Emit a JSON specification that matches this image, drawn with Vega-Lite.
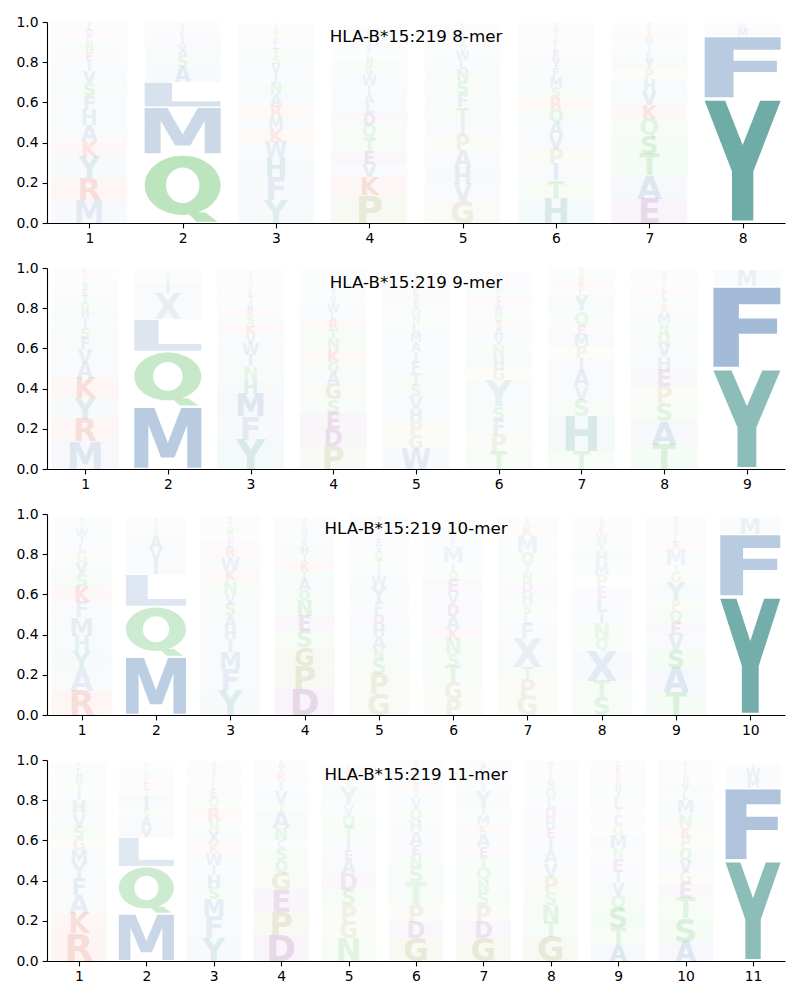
{
"$schema": "https://vega.github.io/schema/vega-lite/v6.json",
"padding": {"left": 16, "top": 15, "right": 10, "bottom": 5},
"background": "white",
"spacing": 45,
"bounds": "flush",
"resolve": {"scale": {"shape": "independent", "size": "independent"}},
"config": {
  "view": {"stroke": null},
  "font": "DejaVu Sans",
  "axis": {"domainColor": "#000", "tickColor": "#000", "labelColor": "#000", "labelFont": "DejaVu Sans", "labelFontSize": 13.9, "tickSize": 4.9, "labelPadding": 4, "grid": false, "domainWidth": 1.1, "tickWidth": 1.1},
  "title": {"fontSize": 16.7, "fontWeight": "normal", "font": "DejaVu Sans", "color": "#000", "anchor": "middle", "offset": -31, "baseline": "alphabetic"},
  "legend": {"disable": true}
},
"datasets": {
"d8": [
{"p":1,"l":"M","h":0.113,"a":0.1},{"p":1,"l":"R","h":0.111,"a":0.12},{"p":1,"l":"Y","h":0.106,"a":0.1},{"p":1,"l":"K","h":0.08,"a":0.1},{"p":1,"l":"A","h":0.076,"a":0.09},{"p":1,"l":"H","h":0.074,"a":0.08},{"p":1,"l":"F","h":0.073,"a":0.08},{"p":1,"l":"S","h":0.065,"a":0.09},{"p":1,"l":"V","h":0.06,"a":0.08},{"p":1,"l":"I","h":0.05,"a":0.07},{"p":1,"l":"E","h":0.045,"a":0.07},{"p":1,"l":"N","h":0.04,"a":0.07},{"p":1,"l":"G","h":0.035,"a":0.07},{"p":1,"l":"D","h":0.03,"a":0.06},{"p":1,"l":"L","h":0.025,"a":0.06},{"p":1,"l":"Q","h":0.02,"a":0.06},
{"p":2,"l":"Q","h":0.342,"a":0.31},{"p":2,"l":"M","h":0.235,"a":0.27},{"p":2,"l":"L","h":0.123,"a":0.2},{"p":2,"l":"A","h":0.076,"a":0.1},{"p":2,"l":"S","h":0.058,"a":0.08},{"p":2,"l":"X","h":0.05,"a":0.08},{"p":2,"l":"I","h":0.04,"a":0.07},{"p":2,"l":"E","h":0.03,"a":0.06},{"p":2,"l":"T","h":0.025,"a":0.06},{"p":2,"l":"V","h":0.02,"a":0.05},
{"p":3,"l":"Y","h":0.115,"a":0.1},{"p":3,"l":"F","h":0.114,"a":0.1},{"p":3,"l":"H","h":0.099,"a":0.1},{"p":3,"l":"W","h":0.075,"a":0.09},{"p":3,"l":"K","h":0.066,"a":0.09},{"p":3,"l":"M","h":0.058,"a":0.08},{"p":3,"l":"R","h":0.057,"a":0.09},{"p":3,"l":"A","h":0.056,"a":0.08},{"p":3,"l":"N","h":0.055,"a":0.08},{"p":3,"l":"I","h":0.05,"a":0.07},{"p":3,"l":"V","h":0.048,"a":0.07},{"p":3,"l":"S","h":0.04,"a":0.07},{"p":3,"l":"T","h":0.035,"a":0.07},{"p":3,"l":"L","h":0.03,"a":0.06},{"p":3,"l":"E","h":0.025,"a":0.06},{"p":3,"l":"G","h":0.02,"a":0.06},{"p":3,"l":"Q","h":0.02,"a":0.06},{"p":3,"l":"D","h":0.015,"a":0.05},{"p":3,"l":"P","h":0.015,"a":0.05},
{"p":4,"l":"P","h":0.138,"a":0.15},{"p":4,"l":"K","h":0.09,"a":0.12},{"p":4,"l":"V","h":0.066,"a":0.09},{"p":4,"l":"E","h":0.066,"a":0.1},{"p":4,"l":"T","h":0.066,"a":0.08},{"p":4,"l":"Q","h":0.064,"a":0.08},{"p":4,"l":"D","h":0.058,"a":0.09},{"p":4,"l":"L","h":0.05,"a":0.08},{"p":4,"l":"A","h":0.045,"a":0.08},{"p":4,"l":"I","h":0.045,"a":0.07},{"p":4,"l":"W","h":0.05,"a":0.07},{"p":4,"l":"S","h":0.045,"a":0.07},{"p":4,"l":"N","h":0.035,"a":0.07},{"p":4,"l":"G","h":0.03,"a":0.06},{"p":4,"l":"F","h":0.025,"a":0.06},{"p":4,"l":"H","h":0.02,"a":0.06},{"p":4,"l":"R","h":0.02,"a":0.06},{"p":4,"l":"Y","h":0.02,"a":0.05},{"p":4,"l":"M","h":0.02,"a":0.05},{"p":4,"l":"C","h":0.015,"a":0.05},{"p":4,"l":"X","h":0.015,"a":0.05},
{"p":5,"l":"G","h":0.109,"a":0.12},{"p":5,"l":"V","h":0.087,"a":0.09},{"p":5,"l":"H","h":0.083,"a":0.09},{"p":5,"l":"A","h":0.082,"a":0.09},{"p":5,"l":"P","h":0.075,"a":0.1},{"p":5,"l":"I","h":0.072,"a":0.08},{"p":5,"l":"T","h":0.067,"a":0.09},{"p":5,"l":"F","h":0.066,"a":0.08},{"p":5,"l":"S","h":0.065,"a":0.09},{"p":5,"l":"N","h":0.058,"a":0.08},{"p":5,"l":"L","h":0.045,"a":0.07},{"p":5,"l":"W","h":0.045,"a":0.07},{"p":5,"l":"Q","h":0.03,"a":0.06},{"p":5,"l":"Y","h":0.025,"a":0.06},{"p":5,"l":"E","h":0.02,"a":0.05},{"p":5,"l":"M","h":0.015,"a":0.05},{"p":5,"l":"K","h":0.02,"a":0.05},{"p":5,"l":"D","h":0.015,"a":0.05},{"p":5,"l":"R","h":0.015,"a":0.05},
{"p":6,"l":"H","h":0.121,"a":0.12},{"p":6,"l":"T","h":0.091,"a":0.1},{"p":6,"l":"I","h":0.083,"a":0.09},{"p":6,"l":"P","h":0.075,"a":0.1},{"p":6,"l":"V","h":0.068,"a":0.09},{"p":6,"l":"A","h":0.066,"a":0.09},{"p":6,"l":"Q","h":0.065,"a":0.09},{"p":6,"l":"R","h":0.058,"a":0.09},{"p":6,"l":"S","h":0.05,"a":0.08},{"p":6,"l":"M","h":0.05,"a":0.08},{"p":6,"l":"F","h":0.045,"a":0.07},{"p":6,"l":"Y","h":0.045,"a":0.07},{"p":6,"l":"E","h":0.04,"a":0.07},{"p":6,"l":"L","h":0.03,"a":0.06},{"p":6,"l":"K","h":0.025,"a":0.06},{"p":6,"l":"N","h":0.02,"a":0.05},{"p":6,"l":"G","h":0.02,"a":0.05},{"p":6,"l":"W","h":0.02,"a":0.05},{"p":6,"l":"D","h":0.015,"a":0.05},{"p":6,"l":"C","h":0.01,"a":0.05},
{"p":7,"l":"E","h":0.121,"a":0.14},{"p":7,"l":"A","h":0.116,"a":0.12},{"p":7,"l":"T","h":0.108,"a":0.12},{"p":7,"l":"S","h":0.091,"a":0.12},{"p":7,"l":"Q","h":0.083,"a":0.1},{"p":7,"l":"K","h":0.07,"a":0.1},{"p":7,"l":"V","h":0.068,"a":0.09},{"p":7,"l":"H","h":0.058,"a":0.08},{"p":7,"l":"P","h":0.05,"a":0.08},{"p":7,"l":"Y","h":0.048,"a":0.07},{"p":7,"l":"L","h":0.04,"a":0.07},{"p":7,"l":"I","h":0.035,"a":0.06},{"p":7,"l":"M","h":0.03,"a":0.06},{"p":7,"l":"R","h":0.025,"a":0.06},{"p":7,"l":"N","h":0.02,"a":0.05},{"p":7,"l":"D","h":0.02,"a":0.05},{"p":7,"l":"F","h":0.015,"a":0.05},
{"p":8,"l":"Y","h":0.62,"a":0.64},{"p":8,"l":"F","h":0.31,"a":0.36},{"p":8,"l":"M","h":0.04,"a":0.07},{"p":8,"l":"W","h":0.02,"a":0.05},{"p":8,"l":"L","h":0.01,"a":0.04}
],
"d9": [
{"p":1,"l":"M","h":0.138,"a":0.12},{"p":1,"l":"R","h":0.113,"a":0.12},{"p":1,"l":"Y","h":0.103,"a":0.1},{"p":1,"l":"K","h":0.1,"a":0.12},{"p":1,"l":"A","h":0.075,"a":0.09},{"p":1,"l":"V","h":0.07,"a":0.08},{"p":1,"l":"F","h":0.055,"a":0.08},{"p":1,"l":"S","h":0.05,"a":0.08},{"p":1,"l":"I","h":0.045,"a":0.07},{"p":1,"l":"H","h":0.04,"a":0.07},{"p":1,"l":"Q","h":0.035,"a":0.07},{"p":1,"l":"T","h":0.035,"a":0.07},{"p":1,"l":"E","h":0.03,"a":0.06},{"p":1,"l":"N","h":0.03,"a":0.06},{"p":1,"l":"L","h":0.025,"a":0.06},{"p":1,"l":"G","h":0.02,"a":0.05},{"p":1,"l":"D","h":0.02,"a":0.05},{"p":1,"l":"P","h":0.015,"a":0.05},
{"p":2,"l":"M","h":0.31,"a":0.36},{"p":2,"l":"Q","h":0.275,"a":0.26},{"p":2,"l":"L","h":0.16,"a":0.18},{"p":2,"l":"X","h":0.13,"a":0.08},{"p":2,"l":"I","h":0.05,"a":0.08},{"p":2,"l":"A","h":0.025,"a":0.05},{"p":2,"l":"S","h":0.02,"a":0.05},{"p":2,"l":"E","h":0.015,"a":0.05},{"p":2,"l":"T","h":0.01,"a":0.04},
{"p":3,"l":"Y","h":0.146,"a":0.12},{"p":3,"l":"F","h":0.116,"a":0.1},{"p":3,"l":"M","h":0.113,"a":0.12},{"p":3,"l":"H","h":0.07,"a":0.09},{"p":3,"l":"N","h":0.066,"a":0.08},{"p":3,"l":"I","h":0.058,"a":0.08},{"p":3,"l":"W","h":0.055,"a":0.08},{"p":3,"l":"V","h":0.05,"a":0.07},{"p":3,"l":"K","h":0.045,"a":0.08},{"p":3,"l":"S","h":0.04,"a":0.07},{"p":3,"l":"R","h":0.035,"a":0.07},{"p":3,"l":"A","h":0.03,"a":0.06},{"p":3,"l":"T","h":0.03,"a":0.06},{"p":3,"l":"E","h":0.025,"a":0.06},{"p":3,"l":"L","h":0.02,"a":0.05},{"p":3,"l":"G","h":0.02,"a":0.05},{"p":3,"l":"Q","h":0.02,"a":0.05},{"p":3,"l":"D","h":0.015,"a":0.05},{"p":3,"l":"P","h":0.02,"a":0.05},{"p":3,"l":"C","h":0.015,"a":0.05},
{"p":4,"l":"P","h":0.113,"a":0.14},{"p":4,"l":"D","h":0.085,"a":0.12},{"p":4,"l":"E","h":0.083,"a":0.12},{"p":4,"l":"S","h":0.066,"a":0.09},{"p":4,"l":"G","h":0.075,"a":0.12},{"p":4,"l":"A","h":0.06,"a":0.09},{"p":4,"l":"Q","h":0.05,"a":0.08},{"p":4,"l":"K","h":0.058,"a":0.09},{"p":4,"l":"N","h":0.057,"a":0.08},{"p":4,"l":"T","h":0.05,"a":0.08},{"p":4,"l":"R","h":0.045,"a":0.08},{"p":4,"l":"L","h":0.04,"a":0.07},{"p":4,"l":"W","h":0.04,"a":0.07},{"p":4,"l":"V","h":0.035,"a":0.06},{"p":4,"l":"I","h":0.03,"a":0.06},{"p":4,"l":"H","h":0.025,"a":0.06},{"p":4,"l":"F","h":0.02,"a":0.05},{"p":4,"l":"Y","h":0.02,"a":0.05},{"p":4,"l":"M","h":0.015,"a":0.05},{"p":4,"l":"C","h":0.015,"a":0.05},{"p":4,"l":"X","h":0.015,"a":0.05},
{"p":5,"l":"W","h":0.1,"a":0.1},{"p":5,"l":"G","h":0.068,"a":0.09},{"p":5,"l":"P","h":0.07,"a":0.09},{"p":5,"l":"H","h":0.06,"a":0.08},{"p":5,"l":"V","h":0.066,"a":0.08},{"p":5,"l":"S","h":0.055,"a":0.08},{"p":5,"l":"T","h":0.058,"a":0.08},{"p":5,"l":"F","h":0.055,"a":0.07},{"p":5,"l":"I","h":0.05,"a":0.07},{"p":5,"l":"A","h":0.05,"a":0.07},{"p":5,"l":"M","h":0.045,"a":0.07},{"p":5,"l":"L","h":0.045,"a":0.07},{"p":5,"l":"N","h":0.04,"a":0.06},{"p":5,"l":"Q","h":0.04,"a":0.06},{"p":5,"l":"E","h":0.035,"a":0.06},{"p":5,"l":"Y","h":0.03,"a":0.06},{"p":5,"l":"K","h":0.03,"a":0.06},{"p":5,"l":"D","h":0.025,"a":0.05},{"p":5,"l":"R","h":0.02,"a":0.05},{"p":5,"l":"C","h":0.015,"a":0.05},{"p":5,"l":"X","h":0.02,"a":0.05},
{"p":6,"l":"T","h":0.088,"a":0.1},{"p":6,"l":"P","h":0.083,"a":0.1},{"p":6,"l":"F","h":0.075,"a":0.08},{"p":6,"l":"S","h":0.066,"a":0.08},{"p":6,"l":"Y","h":0.13,"a":0.08},{"p":6,"l":"G","h":0.058,"a":0.08},{"p":6,"l":"H","h":0.055,"a":0.07},{"p":6,"l":"N","h":0.06,"a":0.07},{"p":6,"l":"V","h":0.045,"a":0.07},{"p":6,"l":"A","h":0.045,"a":0.07},{"p":6,"l":"R","h":0.03,"a":0.06},{"p":6,"l":"Q","h":0.035,"a":0.06},{"p":6,"l":"M","h":0.03,"a":0.06},{"p":6,"l":"E","h":0.03,"a":0.06},{"p":6,"l":"K","h":0.025,"a":0.06},{"p":6,"l":"L","h":0.025,"a":0.05},{"p":6,"l":"W","h":0.025,"a":0.05},{"p":6,"l":"I","h":0.02,"a":0.05},{"p":6,"l":"D","h":0.02,"a":0.05},{"p":6,"l":"C","h":0.015,"a":0.05},{"p":6,"l":"X","h":0.02,"a":0.05},
{"p":7,"l":"T","h":0.088,"a":0.1},{"p":7,"l":"H","h":0.174,"a":0.12},{"p":7,"l":"S","h":0.083,"a":0.09},{"p":7,"l":"V","h":0.066,"a":0.08},{"p":7,"l":"A","h":0.075,"a":0.09},{"p":7,"l":"I","h":0.066,"a":0.08},{"p":7,"l":"P","h":0.058,"a":0.08},{"p":7,"l":"M","h":0.058,"a":0.08},{"p":7,"l":"E","h":0.05,"a":0.07},{"p":7,"l":"Q","h":0.066,"a":0.07},{"p":7,"l":"Y","h":0.075,"a":0.07},{"p":7,"l":"L","h":0.03,"a":0.06},{"p":7,"l":"R","h":0.03,"a":0.06},{"p":7,"l":"K","h":0.03,"a":0.06},{"p":7,"l":"N","h":0.02,"a":0.05},{"p":7,"l":"F","h":0.02,"a":0.05},{"p":7,"l":"W","h":0.015,"a":0.05},
{"p":8,"l":"T","h":0.121,"a":0.12},{"p":8,"l":"A","h":0.116,"a":0.12},{"p":8,"l":"S","h":0.091,"a":0.1},{"p":8,"l":"P","h":0.083,"a":0.1},{"p":8,"l":"E","h":0.083,"a":0.1},{"p":8,"l":"H","h":0.066,"a":0.08},{"p":8,"l":"V","h":0.063,"a":0.08},{"p":8,"l":"Q","h":0.056,"a":0.08},{"p":8,"l":"N","h":0.046,"a":0.07},{"p":8,"l":"M","h":0.05,"a":0.07},{"p":8,"l":"K","h":0.035,"a":0.06},{"p":8,"l":"I","h":0.03,"a":0.06},{"p":8,"l":"L","h":0.03,"a":0.06},{"p":8,"l":"R","h":0.025,"a":0.06},{"p":8,"l":"F","h":0.02,"a":0.05},{"p":8,"l":"G","h":0.02,"a":0.05},{"p":8,"l":"D","h":0.015,"a":0.05},{"p":8,"l":"W","h":0.02,"a":0.05},{"p":8,"l":"Y","h":0.02,"a":0.05},
{"p":9,"l":"Y","h":0.5,"a":0.51},{"p":9,"l":"F","h":0.41,"a":0.47},{"p":9,"l":"M","h":0.08,"a":0.07}
],
"d10": [
{"p":1,"l":"R","h":0.121,"a":0.12},{"p":1,"l":"A","h":0.108,"a":0.09},{"p":1,"l":"Y","h":0.091,"a":0.09},{"p":1,"l":"H","h":0.075,"a":0.08},{"p":1,"l":"M","h":0.091,"a":0.09},{"p":1,"l":"F","h":0.075,"a":0.08},{"p":1,"l":"K","h":0.075,"a":0.1},{"p":1,"l":"S","h":0.066,"a":0.08},{"p":1,"l":"V","h":0.058,"a":0.07},{"p":1,"l":"G","h":0.05,"a":0.07},{"p":1,"l":"L","h":0.04,"a":0.06},{"p":1,"l":"I","h":0.035,"a":0.06},{"p":1,"l":"W","h":0.04,"a":0.06},{"p":1,"l":"Q","h":0.025,"a":0.05},{"p":1,"l":"T","h":0.02,"a":0.05},{"p":1,"l":"N","h":0.015,"a":0.05},
{"p":2,"l":"M","h":0.29,"a":0.34},{"p":2,"l":"Q","h":0.25,"a":0.23},{"p":2,"l":"L","h":0.16,"a":0.17},{"p":2,"l":"I","h":0.07,"a":0.08},{"p":2,"l":"V","h":0.06,"a":0.08},{"p":2,"l":"A","h":0.06,"a":0.08},{"p":2,"l":"S","h":0.025,"a":0.05},{"p":2,"l":"E","h":0.025,"a":0.05},{"p":2,"l":"T","h":0.02,"a":0.05},{"p":2,"l":"K","h":0.015,"a":0.05},{"p":2,"l":"D","h":0.01,"a":0.04},
{"p":3,"l":"Y","h":0.121,"a":0.1},{"p":3,"l":"F","h":0.11,"a":0.09},{"p":3,"l":"M","h":0.083,"a":0.09},{"p":3,"l":"I","h":0.066,"a":0.08},{"p":3,"l":"H","h":0.058,"a":0.08},{"p":3,"l":"A","h":0.058,"a":0.08},{"p":3,"l":"S","h":0.058,"a":0.08},{"p":3,"l":"V","h":0.05,"a":0.07},{"p":3,"l":"N","h":0.066,"a":0.07},{"p":3,"l":"K","h":0.05,"a":0.08},{"p":3,"l":"W","h":0.066,"a":0.07},{"p":3,"l":"R","h":0.05,"a":0.07},{"p":3,"l":"E","h":0.04,"a":0.06},{"p":3,"l":"G","h":0.03,"a":0.06},{"p":3,"l":"Q","h":0.03,"a":0.06},{"p":3,"l":"T","h":0.02,"a":0.05},{"p":3,"l":"L","h":0.02,"a":0.05},{"p":3,"l":"D","h":0.015,"a":0.05},
{"p":4,"l":"D","h":0.13,"a":0.15},{"p":4,"l":"P","h":0.116,"a":0.15},{"p":4,"l":"G","h":0.091,"a":0.15},{"p":4,"l":"S","h":0.083,"a":0.1},{"p":4,"l":"E","h":0.075,"a":0.1},{"p":4,"l":"N","h":0.075,"a":0.09},{"p":4,"l":"Q","h":0.05,"a":0.08},{"p":4,"l":"A","h":0.058,"a":0.08},{"p":4,"l":"T","h":0.04,"a":0.07},{"p":4,"l":"K","h":0.045,"a":0.08},{"p":4,"l":"I","h":0.04,"a":0.07},{"p":4,"l":"H","h":0.04,"a":0.07},{"p":4,"l":"V","h":0.03,"a":0.06},{"p":4,"l":"Y","h":0.03,"a":0.06},{"p":4,"l":"M","h":0.025,"a":0.06},{"p":4,"l":"F","h":0.02,"a":0.05},{"p":4,"l":"L","h":0.02,"a":0.05},{"p":4,"l":"W","h":0.015,"a":0.05},
{"p":5,"l":"G","h":0.104,"a":0.12},{"p":5,"l":"P","h":0.1,"a":0.12},{"p":5,"l":"S","h":0.075,"a":0.09},{"p":5,"l":"N","h":0.05,"a":0.08},{"p":5,"l":"A","h":0.066,"a":0.08},{"p":5,"l":"H","h":0.058,"a":0.08},{"p":5,"l":"D","h":0.05,"a":0.08},{"p":5,"l":"F","h":0.058,"a":0.07},{"p":5,"l":"Y","h":0.08,"a":0.07},{"p":5,"l":"W","h":0.05,"a":0.07},{"p":5,"l":"I","h":0.04,"a":0.06},{"p":5,"l":"T","h":0.045,"a":0.06},{"p":5,"l":"Q","h":0.035,"a":0.06},{"p":5,"l":"V","h":0.03,"a":0.06},{"p":5,"l":"E","h":0.03,"a":0.06},{"p":5,"l":"L","h":0.025,"a":0.05},{"p":5,"l":"K","h":0.02,"a":0.05},{"p":5,"l":"M","h":0.02,"a":0.05},{"p":5,"l":"R","h":0.015,"a":0.05},{"p":5,"l":"C","h":0.02,"a":0.05},{"p":5,"l":"X","h":0.02,"a":0.05},
{"p":6,"l":"P","h":0.08,"a":0.1},{"p":6,"l":"G","h":0.083,"a":0.1},{"p":6,"l":"T","h":0.083,"a":0.09},{"p":6,"l":"S","h":0.058,"a":0.08},{"p":6,"l":"N","h":0.075,"a":0.08},{"p":6,"l":"K","h":0.05,"a":0.08},{"p":6,"l":"A","h":0.066,"a":0.08},{"p":6,"l":"D","h":0.058,"a":0.08},{"p":6,"l":"V","h":0.058,"a":0.07},{"p":6,"l":"E","h":0.066,"a":0.08},{"p":6,"l":"Q","h":0.04,"a":0.06},{"p":6,"l":"I","h":0.04,"a":0.06},{"p":6,"l":"M","h":0.08,"a":0.06},{"p":6,"l":"L","h":0.03,"a":0.05},{"p":6,"l":"F","h":0.025,"a":0.05},{"p":6,"l":"H","h":0.025,"a":0.05},{"p":6,"l":"R","h":0.02,"a":0.05},{"p":6,"l":"Y","h":0.02,"a":0.05},{"p":6,"l":"W","h":0.015,"a":0.05},
{"p":7,"l":"G","h":0.096,"a":0.1},{"p":7,"l":"P","h":0.083,"a":0.1},{"p":7,"l":"T","h":0.058,"a":0.08},{"p":7,"l":"X","h":0.14,"a":0.08},{"p":7,"l":"F","h":0.075,"a":0.07},{"p":7,"l":"L","h":0.05,"a":0.06},{"p":7,"l":"S","h":0.05,"a":0.06},{"p":7,"l":"H","h":0.058,"a":0.06},{"p":7,"l":"D","h":0.05,"a":0.06},{"p":7,"l":"N","h":0.05,"a":0.06},{"p":7,"l":"I","h":0.04,"a":0.06},{"p":7,"l":"Q","h":0.058,"a":0.06},{"p":7,"l":"M","h":0.083,"a":0.06},{"p":7,"l":"K","h":0.05,"a":0.05},{"p":7,"l":"R","h":0.025,"a":0.05},{"p":7,"l":"V","h":0.02,"a":0.05},
{"p":8,"l":"S","h":0.088,"a":0.1},{"p":8,"l":"T","h":0.083,"a":0.09},{"p":8,"l":"X","h":0.15,"a":0.1},{"p":8,"l":"Q","h":0.058,"a":0.07},{"p":8,"l":"N","h":0.075,"a":0.07},{"p":8,"l":"I","h":0.058,"a":0.07},{"p":8,"l":"L","h":0.07,"a":0.07},{"p":8,"l":"E","h":0.058,"a":0.06},{"p":8,"l":"P","h":0.058,"a":0.06},{"p":8,"l":"M","h":0.058,"a":0.06},{"p":8,"l":"H","h":0.058,"a":0.06},{"p":8,"l":"Y","h":0.05,"a":0.05},{"p":8,"l":"W","h":0.04,"a":0.05},{"p":8,"l":"K","h":0.03,"a":0.05},{"p":8,"l":"R","h":0.02,"a":0.05},{"p":8,"l":"A","h":0.02,"a":0.05},{"p":8,"l":"G","h":0.015,"a":0.05},
{"p":9,"l":"T","h":0.113,"a":0.12},{"p":9,"l":"A","h":0.12,"a":0.12},{"p":9,"l":"S","h":0.09,"a":0.12},{"p":9,"l":"V","h":0.075,"a":0.09},{"p":9,"l":"E","h":0.066,"a":0.09},{"p":9,"l":"Q","h":0.058,"a":0.08},{"p":9,"l":"P","h":0.05,"a":0.08},{"p":9,"l":"Y","h":0.09,"a":0.08},{"p":9,"l":"G","h":0.05,"a":0.07},{"p":9,"l":"I","h":0.035,"a":0.06},{"p":9,"l":"M","h":0.08,"a":0.06},{"p":9,"l":"R","h":0.035,"a":0.06},{"p":9,"l":"L","h":0.03,"a":0.05},{"p":9,"l":"K","h":0.025,"a":0.05},{"p":9,"l":"N","h":0.02,"a":0.05},{"p":9,"l":"H","h":0.02,"a":0.05},{"p":9,"l":"F","h":0.02,"a":0.05},{"p":9,"l":"W","h":0.015,"a":0.05},
{"p":10,"l":"Y","h":0.59,"a":0.62},{"p":10,"l":"F","h":0.31,"a":0.36},{"p":10,"l":"M","h":0.08,"a":0.07},{"p":10,"l":"W","h":0.01,"a":0.04}
],
"d11": [
{"p":1,"l":"R","h":0.138,"a":0.13},{"p":1,"l":"K","h":0.1,"a":0.12},{"p":1,"l":"A","h":0.091,"a":0.09},{"p":1,"l":"F","h":0.083,"a":0.09},{"p":1,"l":"Y","h":0.075,"a":0.08},{"p":1,"l":"M","h":0.066,"a":0.08},{"p":1,"l":"G","h":0.058,"a":0.08},{"p":1,"l":"S","h":0.058,"a":0.08},{"p":1,"l":"V","h":0.066,"a":0.07},{"p":1,"l":"H","h":0.066,"a":0.07},{"p":1,"l":"I","h":0.05,"a":0.06},{"p":1,"l":"T","h":0.04,"a":0.06},{"p":1,"l":"N","h":0.035,"a":0.06},{"p":1,"l":"L","h":0.03,"a":0.05},{"p":1,"l":"Q","h":0.02,"a":0.05},{"p":1,"l":"D","h":0.015,"a":0.05},
{"p":2,"l":"M","h":0.235,"a":0.28},{"p":2,"l":"Q","h":0.235,"a":0.23},{"p":2,"l":"L","h":0.145,"a":0.16},{"p":2,"l":"V","h":0.05,"a":0.08},{"p":2,"l":"A","h":0.05,"a":0.08},{"p":2,"l":"S","h":0.04,"a":0.06},{"p":2,"l":"I","h":0.065,"a":0.08},{"p":2,"l":"T","h":0.03,"a":0.05},{"p":2,"l":"E","h":0.03,"a":0.05},{"p":2,"l":"K","h":0.025,"a":0.05},{"p":2,"l":"D","h":0.02,"a":0.05},{"p":2,"l":"N","h":0.02,"a":0.05},{"p":2,"l":"G","h":0.015,"a":0.04},{"p":2,"l":"R","h":0.015,"a":0.04},{"p":2,"l":"W","h":0.015,"a":0.04},
{"p":3,"l":"Y","h":0.113,"a":0.1},{"p":3,"l":"F","h":0.11,"a":0.09},{"p":3,"l":"M","h":0.083,"a":0.09},{"p":3,"l":"S","h":0.058,"a":0.08},{"p":3,"l":"H","h":0.066,"a":0.08},{"p":3,"l":"I","h":0.05,"a":0.07},{"p":3,"l":"W","h":0.058,"a":0.07},{"p":3,"l":"K","h":0.05,"a":0.07},{"p":3,"l":"X","h":0.06,"a":0.07},{"p":3,"l":"N","h":0.05,"a":0.06},{"p":3,"l":"R","h":0.066,"a":0.07},{"p":3,"l":"Q","h":0.05,"a":0.06},{"p":3,"l":"E","h":0.04,"a":0.06},{"p":3,"l":"L","h":0.03,"a":0.05},{"p":3,"l":"G","h":0.025,"a":0.05},{"p":3,"l":"T","h":0.02,"a":0.05},{"p":3,"l":"D","h":0.015,"a":0.05},{"p":3,"l":"V","h":0.03,"a":0.05},{"p":3,"l":"A","h":0.02,"a":0.05},
{"p":4,"l":"D","h":0.13,"a":0.15},{"p":4,"l":"P","h":0.116,"a":0.15},{"p":4,"l":"E","h":0.108,"a":0.12},{"p":4,"l":"G","h":0.091,"a":0.12},{"p":4,"l":"Q","h":0.058,"a":0.08},{"p":4,"l":"S","h":0.058,"a":0.08},{"p":4,"l":"C","h":0.04,"a":0.06},{"p":4,"l":"N","h":0.06,"a":0.08},{"p":4,"l":"A","h":0.083,"a":0.08},{"p":4,"l":"T","h":0.04,"a":0.06},{"p":4,"l":"V","h":0.06,"a":0.07},{"p":4,"l":"I","h":0.05,"a":0.06},{"p":4,"l":"K","h":0.04,"a":0.06},{"p":4,"l":"X","h":0.03,"a":0.05},{"p":4,"l":"M","h":0.02,"a":0.05},{"p":4,"l":"R","h":0.015,"a":0.05},
{"p":5,"l":"N","h":0.113,"a":0.1},{"p":5,"l":"G","h":0.083,"a":0.1},{"p":5,"l":"P","h":0.083,"a":0.1},{"p":5,"l":"S","h":0.075,"a":0.09},{"p":5,"l":"D","h":0.083,"a":0.09},{"p":5,"l":"A","h":0.066,"a":0.08},{"p":5,"l":"E","h":0.05,"a":0.07},{"p":5,"l":"I","h":0.058,"a":0.07},{"p":5,"l":"T","h":0.058,"a":0.07},{"p":5,"l":"Q","h":0.058,"a":0.07},{"p":5,"l":"V","h":0.05,"a":0.06},{"p":5,"l":"Y","h":0.09,"a":0.06},{"p":5,"l":"L","h":0.03,"a":0.05},{"p":5,"l":"K","h":0.025,"a":0.05},{"p":5,"l":"R","h":0.02,"a":0.05},{"p":5,"l":"M","h":0.02,"a":0.05},{"p":5,"l":"F","h":0.015,"a":0.05},
{"p":6,"l":"G","h":0.113,"a":0.15},{"p":6,"l":"D","h":0.083,"a":0.1},{"p":6,"l":"P","h":0.083,"a":0.1},{"p":6,"l":"T","h":0.116,"a":0.08},{"p":6,"l":"S","h":0.075,"a":0.08},{"p":6,"l":"N","h":0.058,"a":0.07},{"p":6,"l":"E","h":0.05,"a":0.07},{"p":6,"l":"A","h":0.066,"a":0.07},{"p":6,"l":"H","h":0.058,"a":0.06},{"p":6,"l":"Q","h":0.058,"a":0.06},{"p":6,"l":"V","h":0.05,"a":0.06},{"p":6,"l":"I","h":0.04,"a":0.06},{"p":6,"l":"K","h":0.03,"a":0.05},{"p":6,"l":"L","h":0.03,"a":0.05},{"p":6,"l":"M","h":0.02,"a":0.05},{"p":6,"l":"F","h":0.02,"a":0.05},{"p":6,"l":"R","h":0.015,"a":0.05},{"p":6,"l":"W","h":0.02,"a":0.05},{"p":6,"l":"Y","h":0.015,"a":0.05},
{"p":7,"l":"G","h":0.113,"a":0.15},{"p":7,"l":"D","h":0.083,"a":0.1},{"p":7,"l":"P","h":0.083,"a":0.1},{"p":7,"l":"S","h":0.066,"a":0.08},{"p":7,"l":"N","h":0.058,"a":0.07},{"p":7,"l":"Q","h":0.066,"a":0.07},{"p":7,"l":"T","h":0.05,"a":0.07},{"p":7,"l":"E","h":0.05,"a":0.07},{"p":7,"l":"A","h":0.066,"a":0.07},{"p":7,"l":"K","h":0.041,"a":0.06},{"p":7,"l":"M","h":0.05,"a":0.06},{"p":7,"l":"I","h":0.033,"a":0.06},{"p":7,"l":"Y","h":0.083,"a":0.06},{"p":7,"l":"V","h":0.03,"a":0.05},{"p":7,"l":"L","h":0.025,"a":0.05},{"p":7,"l":"R","h":0.02,"a":0.05},{"p":7,"l":"H","h":0.015,"a":0.05},{"p":7,"l":"F","h":0.03,"a":0.05},{"p":7,"l":"W","h":0.02,"a":0.05},{"p":7,"l":"C","h":0.015,"a":0.05},
{"p":8,"l":"G","h":0.121,"a":0.15},{"p":8,"l":"T","h":0.075,"a":0.09},{"p":8,"l":"N","h":0.083,"a":0.09},{"p":8,"l":"S","h":0.066,"a":0.08},{"p":8,"l":"P","h":0.075,"a":0.09},{"p":8,"l":"V","h":0.066,"a":0.07},{"p":8,"l":"A","h":0.066,"a":0.07},{"p":8,"l":"I","h":0.058,"a":0.07},{"p":8,"l":"E","h":0.05,"a":0.07},{"p":8,"l":"H","h":0.05,"a":0.06},{"p":8,"l":"D","h":0.05,"a":0.06},{"p":8,"l":"L","h":0.05,"a":0.06},{"p":8,"l":"Q","h":0.05,"a":0.06},{"p":8,"l":"M","h":0.03,"a":0.05},{"p":8,"l":"K","h":0.025,"a":0.05},{"p":8,"l":"R","h":0.02,"a":0.05},{"p":8,"l":"Y","h":0.015,"a":0.05},{"p":8,"l":"F","h":0.025,"a":0.05},{"p":8,"l":"W","h":0.02,"a":0.05},
{"p":9,"l":"A","h":0.08,"a":0.12},{"p":9,"l":"T","h":0.083,"a":0.1},{"p":9,"l":"S","h":0.1,"a":0.12},{"p":9,"l":"Q","h":0.066,"a":0.08},{"p":9,"l":"V","h":0.058,"a":0.08},{"p":9,"l":"I","h":0.058,"a":0.07},{"p":9,"l":"E","h":0.066,"a":0.07},{"p":9,"l":"N","h":0.05,"a":0.06},{"p":9,"l":"M","h":0.066,"a":0.07},{"p":9,"l":"G","h":0.05,"a":0.06},{"p":9,"l":"C","h":0.05,"a":0.06},{"p":9,"l":"P","h":0.03,"a":0.05},{"p":9,"l":"L","h":0.06,"a":0.06},{"p":9,"l":"Y","h":0.04,"a":0.05},{"p":9,"l":"H","h":0.03,"a":0.05},{"p":9,"l":"K","h":0.02,"a":0.05},{"p":9,"l":"W","h":0.015,"a":0.05},{"p":9,"l":"R","h":0.03,"a":0.05},{"p":9,"l":"D","h":0.025,"a":0.05},{"p":9,"l":"F","h":0.02,"a":0.05},
{"p":10,"l":"A","h":0.096,"a":0.12},{"p":10,"l":"S","h":0.116,"a":0.12},{"p":10,"l":"T","h":0.1,"a":0.1},{"p":10,"l":"E","h":0.075,"a":0.09},{"p":10,"l":"G","h":0.058,"a":0.08},{"p":10,"l":"V","h":0.058,"a":0.08},{"p":10,"l":"Q","h":0.058,"a":0.08},{"p":10,"l":"P","h":0.058,"a":0.08},{"p":10,"l":"K","h":0.05,"a":0.07},{"p":10,"l":"N","h":0.066,"a":0.07},{"p":10,"l":"M","h":0.066,"a":0.07},{"p":10,"l":"L","h":0.04,"a":0.06},{"p":10,"l":"Y","h":0.04,"a":0.06},{"p":10,"l":"H","h":0.03,"a":0.05},{"p":10,"l":"R","h":0.02,"a":0.05},{"p":10,"l":"D","h":0.015,"a":0.05},{"p":10,"l":"I","h":0.03,"a":0.05},{"p":10,"l":"F","h":0.02,"a":0.05},
{"p":11,"l":"Y","h":0.5,"a":0.51},{"p":11,"l":"F","h":0.36,"a":0.41},{"p":11,"l":"M","h":0.05,"a":0.07},{"p":11,"l":"W","h":0.05,"a":0.07},{"p":11,"l":"L","h":0.02,"a":0.05}
]
},
"vconcat": [
{
  "width": 738, "height": 201,
  "data": {"name": "d8"},
  "title": {"text": "HLA-B*15:219 8-mer"},
  "transform": [{"stack": "h", "groupby": ["p"], "as": ["y0", "y1"]}],
  "encoding": {
    "x": {"field": "p", "type": "quantitative", "scale": {"domain": [0.6, 8.4], "nice": false, "zero": false}, "axis": {"values": [1,2,3,4,5,6,7,8], "format": "d", "title": null}},
    "y": {"field": "y0", "type": "quantitative", "scale": {"domain": [0, 1], "nice": false}, "axis": {"values": [0, 0.2, 0.4, 0.6, 0.8, 1.0], "format": ".1f", "title": null}},
    "color": {"field": "l", "type": "nominal", "scale": {"domain": ["A","C","D","E","F","G","H","I","K","L","M","N","P","Q","R","S","T","V","W","X","Y"], "range": ["#3c6eaa","#3c6eaa","#823c96","#823c96","#3c6eaa","#969646","#1e7d76","#3c6eaa","#dc3c28","#3c6eaa","#3c6eaa","#28aa32","#969646","#28aa32","#dc3c28","#28aa32","#28aa32","#3c6eaa","#3c6eaa","#3c6eaa","#1e7d76"]}},
    "opacity": {"field": "a", "type": "quantitative", "scale": {"domain": [0, 1], "range": [0, 1]}}
  },
  "layer": [
    {"transform": [{"filter": "datum.a < 0.16"}], "mark": {"type": "bar", "size": 76, "fillOpacity": 0.4}, "encoding": {"y2": {"field": "y1"}}},
    {"transform": [{"filter": "datum.a < 0.16"}], "mark": {"type": "text", "font": "DejaVu Sans", "fontWeight": "bold", "baseline": "alphabetic", "align": "center"}, "encoding": {"text": {"field": "l"}, "size": {"field": "h", "type": "quantitative", "scale": {"domain": [0, 1], "range": [0, 276]}}}},
    {"transform": [{"filter": "datum.a >= 0.16"}], "mark": {"type": "point", "filled": true, "strokeWidth": 0}, "encoding": {
      "size": {"field": "h", "type": "quantitative", "scale": {"type": "pow", "exponent": 2, "domain": [0, 1], "range": [0, 40401]}},
      "shape": {"field": "l", "type": "nominal", "scale": {"domain": ["Y","F","Q","M","L"], "range": [
        "M-0.61,-1.96L-0.281,-1.96L0,-1.25L0.281,-1.96L0.61,-1.96L0.171,-0.827L0.171,-0.04L-0.171,-0.04L-0.171,-0.827Z",
        "M-1.22,-0.04L-1.22,-1.96L1.22,-1.96L1.22,-1.557L-0.293,-1.557L-0.293,-1.211L1.098,-1.211L1.098,-0.846L-0.293,-0.846L-0.293,-0.04Z",
        "M-1.106,-1.096A1.106,0.864,0,1,1,1.106,-1.096A1.106,0.864,0,1,1,-1.106,-1.096ZM-0.487,-1.096A0.487,0.518,0,1,0,0.487,-1.096A0.487,0.518,0,1,0,-0.487,-1.096ZM0.111,-0.328L0.664,-0.309L1.018,-0.04L0.398,-0.04Z",
        "M-1.61,-0.04L-1.61,-1.96L-0.644,-1.96L0,-0.846L0.644,-1.96L1.61,-1.96L1.61,-0.04L0.934,-0.04L0.934,-1.422L0.322,-0.366L-0.322,-0.366L-0.934,-1.422L-0.934,-0.04Z",
        "M-3.075,-0.04L-3.075,-1.96L-0.861,-1.96L-0.861,-0.462L3.075,-0.462L3.075,-0.04Z"]}}}}
  ],
  "resolve": {"scale": {"size": "independent"}}
},
{
  "width": 738, "height": 201,
  "data": {"name": "d9"},
  "title": {"text": "HLA-B*15:219 9-mer"},
  "transform": [{"stack": "h", "groupby": ["p"], "as": ["y0", "y1"]}],
  "encoding": {
    "x": {"field": "p", "type": "quantitative", "scale": {"domain": [0.6, 9.4], "nice": false, "zero": false}, "axis": {"values": [1,2,3,4,5,6,7,8,9], "format": "d", "title": null}},
    "y": {"field": "y0", "type": "quantitative", "scale": {"domain": [0, 1], "nice": false}, "axis": {"values": [0, 0.2, 0.4, 0.6, 0.8, 1.0], "format": ".1f", "title": null}},
    "color": {"field": "l", "type": "nominal"},
    "opacity": {"field": "a", "type": "quantitative"}
  },
  "layer": [
    {"transform": [{"filter": "datum.a < 0.16"}], "mark": {"type": "bar", "size": 67, "fillOpacity": 0.4}, "encoding": {"y2": {"field": "y1"}}},
    {"transform": [{"filter": "datum.a < 0.16"}], "mark": {"type": "text", "font": "DejaVu Sans", "fontWeight": "bold", "baseline": "alphabetic", "align": "center"}, "encoding": {"text": {"field": "l"}, "size": {"field": "h", "type": "quantitative", "scale": {"domain": [0, 1], "range": [0, 276]}}}},
    {"transform": [{"filter": "datum.a >= 0.16"}], "mark": {"type": "point", "filled": true, "strokeWidth": 0}, "encoding": {
      "size": {"field": "h", "type": "quantitative", "scale": {"type": "pow", "exponent": 2, "domain": [0, 1], "range": [0, 40401]}},
      "shape": {"field": "l", "type": "nominal", "scale": {"domain": ["Y","F","Q","M","L"], "range": [
        "M-0.667,-1.96L-0.307,-1.96L0,-1.25L0.307,-1.96L0.667,-1.96L0.187,-0.827L0.187,-0.04L-0.187,-0.04L-0.187,-0.827Z",
        "M-0.813,-0.04L-0.813,-1.96L0.813,-1.96L0.813,-1.557L-0.195,-1.557L-0.195,-1.211L0.732,-1.211L0.732,-0.846L-0.195,-0.846L-0.195,-0.04Z",
        "M-1.212,-1.096A1.212,0.864,0,1,1,1.212,-1.096A1.212,0.864,0,1,1,-1.212,-1.096ZM-0.533,-1.096A0.533,0.518,0,1,0,0.533,-1.096A0.533,0.518,0,1,0,-0.533,-1.096ZM0.121,-0.328L0.727,-0.309L1.115,-0.04L0.436,-0.04Z",
        "M-1.076,-0.04L-1.076,-1.96L-0.43,-1.96L0,-0.846L0.43,-1.96L1.076,-1.96L1.076,-0.04L0.624,-0.04L0.624,-1.422L0.215,-0.366L-0.215,-0.366L-0.624,-1.422L-0.624,-0.04Z",
        "M-2.081,-0.04L-2.081,-1.96L-0.583,-1.96L-0.583,-0.462L2.081,-0.462L2.081,-0.04Z"]}}}}
  ],
  "resolve": {"scale": {"size": "independent"}}
},
{
  "width": 738, "height": 201,
  "data": {"name": "d10"},
  "title": {"text": "HLA-B*15:219 10-mer"},
  "transform": [{"stack": "h", "groupby": ["p"], "as": ["y0", "y1"]}],
  "encoding": {
    "x": {"field": "p", "type": "quantitative", "scale": {"domain": [0.6, 10.4], "nice": false, "zero": false}, "axis": {"values": [1,2,3,4,5,6,7,8,9,10], "format": "d", "title": null}},
    "y": {"field": "y0", "type": "quantitative", "scale": {"domain": [0, 1], "nice": false}, "axis": {"values": [0, 0.2, 0.4, 0.6, 0.8, 1.0], "format": ".1f", "title": null}},
    "color": {"field": "l", "type": "nominal"},
    "opacity": {"field": "a", "type": "quantitative"}
  },
  "layer": [
    {"transform": [{"filter": "datum.a < 0.16"}], "mark": {"type": "bar", "size": 60, "fillOpacity": 0.4}, "encoding": {"y2": {"field": "y1"}}},
    {"transform": [{"filter": "datum.a < 0.16"}], "mark": {"type": "text", "font": "DejaVu Sans", "fontWeight": "bold", "baseline": "alphabetic", "align": "center"}, "encoding": {"text": {"field": "l"}, "size": {"field": "h", "type": "quantitative", "scale": {"domain": [0, 1], "range": [0, 276]}}}},
    {"transform": [{"filter": "datum.a >= 0.16"}], "mark": {"type": "point", "filled": true, "strokeWidth": 0}, "encoding": {
      "size": {"field": "h", "type": "quantitative", "scale": {"type": "pow", "exponent": 2, "domain": [0, 1], "range": [0, 40401]}},
      "shape": {"field": "l", "type": "nominal", "scale": {"domain": ["Y","F","Q","M","L"], "range": [
        "M-0.506,-1.96L-0.233,-1.96L0,-1.25L0.233,-1.96L0.506,-1.96L0.142,-0.827L0.142,-0.04L-0.142,-0.04L-0.142,-0.827Z",
        "M-0.963,-0.04L-0.963,-1.96L0.963,-1.96L0.963,-1.557L-0.231,-1.557L-0.231,-1.211L0.867,-1.211L0.867,-0.846L-0.231,-0.846L-0.231,-0.04Z",
        "M-1.194,-1.096A1.194,0.864,0,1,1,1.194,-1.096A1.194,0.864,0,1,1,-1.194,-1.096ZM-0.525,-1.096A0.525,0.518,0,1,0,0.525,-1.096A0.525,0.518,0,1,0,-0.525,-1.096ZM0.119,-0.328L0.716,-0.309L1.098,-0.04L0.43,-0.04Z",
        "M-1.029,-0.04L-1.029,-1.96L-0.412,-1.96L0,-0.846L0.412,-1.96L1.029,-1.96L1.029,-0.04L0.597,-0.04L0.597,-1.422L0.206,-0.366L-0.206,-0.366L-0.597,-1.422L-0.597,-0.04Z",
        "M-1.864,-0.04L-1.864,-1.96L-0.522,-1.96L-0.522,-0.462L1.864,-0.462L1.864,-0.04Z"]}}}}
  ],
  "resolve": {"scale": {"size": "independent"}}
},
{
  "width": 738, "height": 201,
  "data": {"name": "d11"},
  "title": {"text": "HLA-B*15:219 11-mer"},
  "transform": [{"stack": "h", "groupby": ["p"], "as": ["y0", "y1"]}],
  "encoding": {
    "x": {"field": "p", "type": "quantitative", "scale": {"domain": [0.6, 11.4], "nice": false, "zero": false}, "axis": {"values": [1,2,3,4,5,6,7,8,9,10,11], "format": "d", "title": null}},
    "y": {"field": "y0", "type": "quantitative", "scale": {"domain": [0, 1], "nice": false}, "axis": {"values": [0, 0.2, 0.4, 0.6, 0.8, 1.0], "format": ".1f", "title": null}},
    "color": {"field": "l", "type": "nominal"},
    "opacity": {"field": "a", "type": "quantitative"}
  },
  "layer": [
    {"transform": [{"filter": "datum.a < 0.16"}], "mark": {"type": "bar", "size": 55, "fillOpacity": 0.4}, "encoding": {"y2": {"field": "y1"}}},
    {"transform": [{"filter": "datum.a < 0.16"}], "mark": {"type": "text", "font": "DejaVu Sans", "fontWeight": "bold", "baseline": "alphabetic", "align": "center"}, "encoding": {"text": {"field": "l"}, "size": {"field": "h", "type": "quantitative", "scale": {"domain": [0, 1], "range": [0, 276]}}}},
    {"transform": [{"filter": "datum.a >= 0.16"}], "mark": {"type": "point", "filled": true, "strokeWidth": 0}, "encoding": {
      "size": {"field": "h", "type": "quantitative", "scale": {"type": "pow", "exponent": 2, "domain": [0, 1], "range": [0, 40401]}},
      "shape": {"field": "l", "type": "nominal", "scale": {"domain": ["Y","F","Q","M","L"], "range": [
        "M-0.548,-1.96L-0.252,-1.96L0,-1.25L0.252,-1.96L0.548,-1.96L0.153,-0.827L0.153,-0.04L-0.153,-0.04L-0.153,-0.827Z",
        "M-0.76,-0.04L-0.76,-1.96L0.76,-1.96L0.76,-1.557L-0.182,-1.557L-0.182,-1.211L0.684,-1.211L0.684,-0.846L-0.182,-0.846L-0.182,-0.04Z",
        "M-1.166,-1.096A1.166,0.864,0,1,1,1.166,-1.096A1.166,0.864,0,1,1,-1.166,-1.096ZM-0.513,-1.096A0.513,0.518,0,1,0,0.513,-1.096A0.513,0.518,0,1,0,-0.513,-1.096ZM0.117,-0.328L0.699,-0.309L1.072,-0.04L0.42,-0.04Z",
        "M-1.166,-0.04L-1.166,-1.96L-0.466,-1.96L0,-0.846L0.466,-1.96L1.166,-1.96L1.166,-0.04L0.676,-0.04L0.676,-1.422L0.233,-0.366L-0.233,-0.366L-0.676,-1.422L-0.676,-0.04Z",
        "M-1.89,-0.04L-1.89,-1.96L-0.529,-1.96L-0.529,-0.462L1.89,-0.462L1.89,-0.04Z"]}}}}
  ],
  "resolve": {"scale": {"size": "independent"}}
}
]
}
